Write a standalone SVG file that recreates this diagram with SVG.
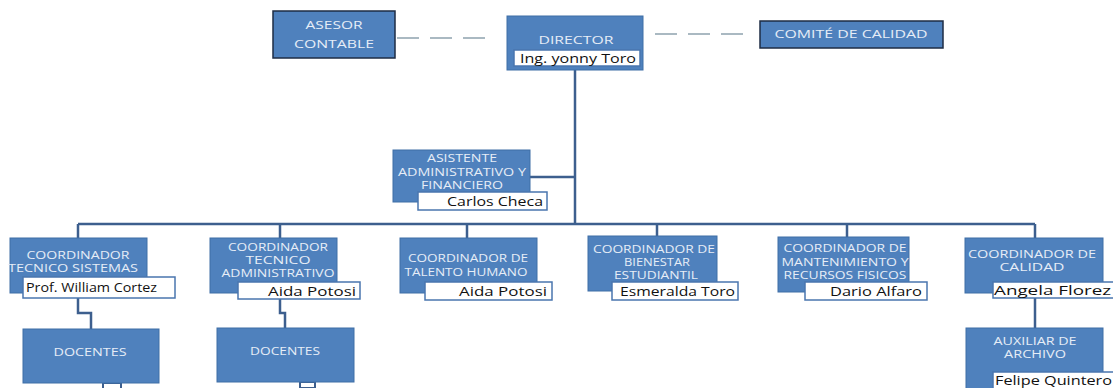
<svg xmlns="http://www.w3.org/2000/svg" width="1113" height="388" viewBox="0 0 1113 388">
<style>
.box{fill:#4F81BD;stroke:#3F6EA6;stroke-width:1}
.dark{fill:#4F81BD;stroke:#1E2C44;stroke-width:1.5}
.lbl{fill:#FFFFFF;stroke:#4A76AE;stroke-width:1.5}
.t{font-family:"Open Sans","Liberation Sans",Arial,sans-serif;font-size:11px;fill:#E6EDF7;text-anchor:middle}
.s{font-size:10.2px}
.n{font-family:"Open Sans","Liberation Sans",Arial,sans-serif;font-size:13px;fill:#111111}
.ln{fill:none;stroke:#3D5F8E;stroke-width:2.5}
.ds{fill:none;stroke:#8FA3AE;stroke-width:1.3;stroke-dasharray:22 11}
</style>
<rect width="1113" height="388" fill="#FFFFFF"/>
<g id="connectors">
<path class="ds" d="M397 38 H492"/>
<path class="ds" d="M655 34 H752"/>
<path class="ln" d="M575 70 V224"/>
<path class="ln" d="M530 177 H575"/>
<path class="ln" d="M78 224 H1035"/>
<path class="ln" d="M78 224 V238 M280 224 V238 M467 224 V238 M657 224 V236 M847 224 V237 M1035 224 V238"/>
<path class="ln" d="M78 298 V313 H91 V329"/>
<path class="ln" d="M280 299 V313 H285 V328"/>
<path class="ln" d="M1035 298 V328"/>
<rect x="103" y="383" width="18" height="6" fill="#FFFFFF" stroke="#3D5F8E" stroke-width="2"/>
<rect x="300" y="382" width="15" height="6" fill="#FFFFFF" stroke="#3D5F8E" stroke-width="2"/>
</g>
<g id="asesor">
<rect class="dark" x="273" y="11" width="122" height="47"/>
<text class="t" x="334" y="29" font-size="12" textLength="57" lengthAdjust="spacingAndGlyphs">ASESOR</text>
<text class="t" x="334" y="48" font-size="12" textLength="80" lengthAdjust="spacingAndGlyphs">CONTABLE</text>
</g>
<g id="director">
<rect class="box" x="507" y="16" width="136" height="54"/>
<text class="t" x="576" y="44" font-size="12" textLength="75" lengthAdjust="spacingAndGlyphs">DIRECTOR</text>
<rect class="lbl" x="514" y="50" width="126" height="16" stroke="none"/>
<text class="n" x="578" y="63" text-anchor="middle" textLength="116" lengthAdjust="spacingAndGlyphs">Ing. yonny Toro</text>
</g>
<g id="comite">
<rect class="dark" x="760" y="21" width="183" height="27"/>
<text class="t" x="851" y="38" font-size="12" textLength="153" lengthAdjust="spacingAndGlyphs">COMITÉ DE CALIDAD</text>
</g>
<g id="asistente">
<rect class="box" x="393" y="150" width="137" height="52"/>
<text class="t" x="462" y="162" textLength="70" lengthAdjust="spacingAndGlyphs">ASISTENTE</text>
<text class="t" x="462" y="176" textLength="128" lengthAdjust="spacingAndGlyphs">ADMINISTRATIVO Y</text>
<text class="t" x="462" y="189" textLength="82" lengthAdjust="spacingAndGlyphs">FINANCIERO</text>
<rect class="lbl" x="418" y="192" width="129" height="18"/>
<text class="n" x="543" y="206" text-anchor="end" textLength="96" lengthAdjust="spacingAndGlyphs">Carlos Checa</text>
</g>
<g id="coord-sistemas">
<rect class="box" x="10" y="238" width="137" height="55"/>
<text class="t" x="78" y="259" textLength="103" lengthAdjust="spacingAndGlyphs">COORDINADOR</text>
<text class="t" x="73" y="272" textLength="130" lengthAdjust="spacingAndGlyphs">TECNICO SISTEMAS</text>
<rect class="lbl" x="23" y="277" width="152" height="21"/>
<text class="n" x="26" y="292" textLength="131" lengthAdjust="spacingAndGlyphs">Prof. William Cortez</text>
</g>
<g id="coord-administrativo">
<rect class="box" x="210" y="238" width="127" height="55"/>
<text class="t s" x="278" y="251" textLength="100" lengthAdjust="spacingAndGlyphs">COORDINADOR</text>
<text class="t s" x="278" y="264" textLength="65" lengthAdjust="spacingAndGlyphs">TECNICO</text>
<text class="t s" x="278" y="277" textLength="113" lengthAdjust="spacingAndGlyphs">ADMINISTRATIVO</text>
<rect class="lbl" x="238" y="282" width="122" height="17"/>
<text class="n" x="356" y="296" text-anchor="end" textLength="88" lengthAdjust="spacingAndGlyphs">Aida Potosi</text>
</g>
<g id="coord-talento">
<rect class="box" x="400" y="238" width="137" height="55"/>
<text class="t" x="468" y="262" textLength="120" lengthAdjust="spacingAndGlyphs">COORDINADOR DE</text>
<text class="t" x="466" y="276" textLength="123" lengthAdjust="spacingAndGlyphs">TALENTO HUMANO</text>
<rect class="lbl" x="425" y="282" width="127" height="18"/>
<text class="n" x="547" y="296" text-anchor="end" textLength="88" lengthAdjust="spacingAndGlyphs">Aida Potosi</text>
</g>
<g id="coord-bienestar">
<rect class="box" x="588" y="236" width="129" height="55"/>
<text class="t" x="654" y="253" textLength="122" lengthAdjust="spacingAndGlyphs">COORDINADOR DE</text>
<text class="t" x="657" y="266" textLength="66" lengthAdjust="spacingAndGlyphs">BIENESTAR</text>
<text class="t" x="656" y="279" textLength="84" lengthAdjust="spacingAndGlyphs">ESTUDIANTIL</text>
<rect class="lbl" x="612" y="282" width="126" height="18"/>
<text class="n" x="735" y="296" text-anchor="end" textLength="115" lengthAdjust="spacingAndGlyphs">Esmeralda Toro</text>
</g>
<g id="coord-mantenimiento">
<rect class="box" x="778" y="237" width="131" height="55"/>
<text class="t" x="845" y="252" textLength="123" lengthAdjust="spacingAndGlyphs">COORDINADOR DE</text>
<text class="t" x="845" y="266" textLength="127" lengthAdjust="spacingAndGlyphs">MANTENIMIENTO Y</text>
<text class="t" x="845" y="279" textLength="123" lengthAdjust="spacingAndGlyphs">RECURSOS FISICOS</text>
<rect class="lbl" x="805" y="282" width="122" height="18"/>
<text class="n" x="922" y="296" text-anchor="end" textLength="92" lengthAdjust="spacingAndGlyphs">Dario Alfaro</text>
</g>
<g id="coord-calidad">
<rect class="box" x="965" y="238" width="138" height="55"/>
<text class="t s" x="1032" y="258" textLength="128" lengthAdjust="spacingAndGlyphs">COORDINADOR DE</text>
<text class="t s" x="1032" y="271" textLength="65" lengthAdjust="spacingAndGlyphs">CALIDAD</text>
<rect class="lbl" x="993" y="282" width="124" height="16"/>
<text class="n" x="1111" y="295" text-anchor="end" textLength="117" lengthAdjust="spacingAndGlyphs">Angela Florez</text>
</g>
<g id="docentes-1">
<rect class="box" x="23" y="329" width="136" height="54"/>
<text class="t" x="90" y="356" textLength="73" lengthAdjust="spacingAndGlyphs">DOCENTES</text>
</g>
<g id="docentes-2">
<rect class="box" x="217" y="328" width="137" height="54"/>
<text class="t" x="285" y="355" textLength="70" lengthAdjust="spacingAndGlyphs">DOCENTES</text>
</g>
<g id="auxiliar-archivo">
<rect class="box" x="966" y="328" width="137" height="62"/>
<text class="t s" x="1035" y="345" textLength="83" lengthAdjust="spacingAndGlyphs">AUXILIAR DE</text>
<text class="t s" x="1035" y="358" textLength="62" lengthAdjust="spacingAndGlyphs">ARCHIVO</text>
<rect class="lbl" x="993" y="372" width="124" height="18"/>
<text class="n" x="995" y="385" font-size="12" textLength="117" lengthAdjust="spacingAndGlyphs">Felipe  Quintero</text>
</g>
</svg>
